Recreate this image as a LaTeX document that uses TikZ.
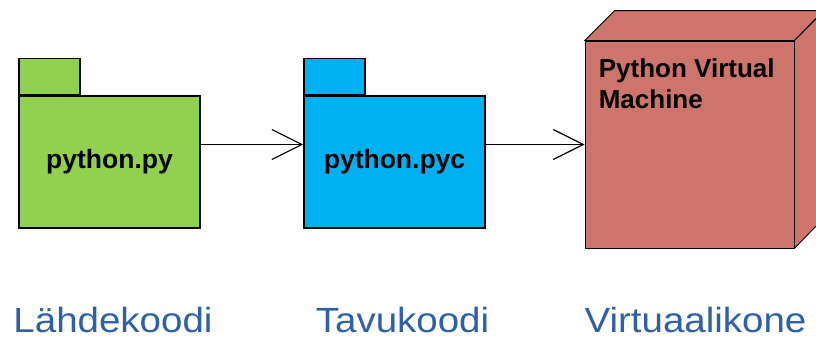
\documentclass[tikz,border=0pt]{standalone}
\usepackage{fontspec}
\setmainfont{Liberation Sans}
\usetikzlibrary{arrows.meta,positioning}

\definecolor{pkggreen}{RGB}{146,208,80}
\definecolor{pkgblue}{RGB}{0,176,240}
\definecolor{vmred}{RGB}{205,116,107}
\definecolor{labelblue}{RGB}{46,96,170}

\begin{document}
\begin{tikzpicture}[x=1pt,y=-1pt,
                    pkg/.style={draw,line width=1.6pt,minimum width=181pt,minimum height=132pt,inner sep=0pt,font=\fontsize{26.5}{30}\selectfont\bfseries},
                    pkgtab/.style={draw,line width=1.6pt,minimum width=61pt,minimum height=36pt,inner sep=0pt,anchor=south west},
                    vmbox/.style={draw,line width=0.8pt,fill=vmred,minimum width=209pt,minimum height=207pt,inner sep=0pt},
                    vmface/.style={draw,line width=0.8pt,fill=vmred,line join=round},
                    flow/.style={line width=1.2pt,-{Straight Barb[length=30pt,width=30pt]}},
                    caption/.style={text=labelblue,font=\fontsize{35}{40}\selectfont,anchor=base,xscale=1.1}
]
\useasboundingbox (0,0) rectangle (816,340);
\clip (0,0) rectangle (816,340);

% packages
\node [pkg,fill=pkggreen] at (109.5,162) (src) {python.py};
\node [pkgtab,fill=pkggreen] at (src.north west) (srctab) {};
\node [pkg,fill=pkgblue] at (394.5,162) (byte) {python.pyc};
\node [pkgtab,fill=pkgblue] at (byte.north west) (bytetab) {};
%
% virtual machine node
\node [vmbox] at (689.5,144.5) (vm) {};
\draw [vmface] (vm.north west) -- ++(30,-30) -- ++(209,0) -- (vm.north east) -- cycle;
\draw [vmface] (vm.north east) -- ++(30,-30) -- ++(0,207) -- (vm.south east) -- cycle;
\node [anchor=north west,align=left,inner sep=0pt,font=\fontsize{26}{31}\selectfont\bfseries]
      at ([shift={(14,18)}]vm.north west) (vmname) {Python Virtual\\Machine};
%
\draw [flow] (src.east |- vm.west) -- (byte.west |- vm.west);
\draw [flow] (byte.east |- vm.west) -- (vm.west);
%
\node [caption] at (113,332) (srccap) {Lähdekoodi};
\node [caption] at (402.5,332) (bytecap) {Tavukoodi};
\node [caption] at (695.5,332) (vmcap) {Virtuaalikone};
\end{tikzpicture}
\end{document}
